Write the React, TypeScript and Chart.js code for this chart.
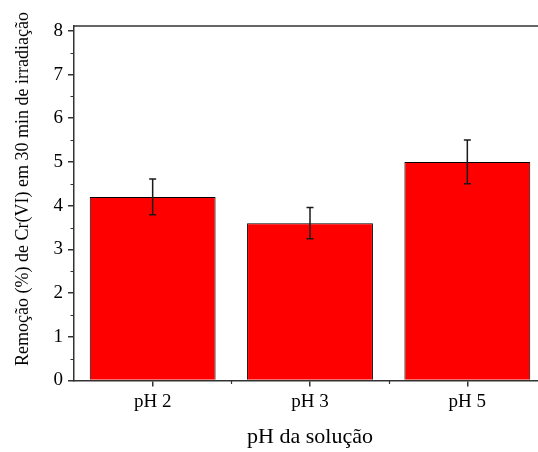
import React, { useEffect, useRef } from "react";
import { Chart, registerables } from "chart.js";

Chart.register(...registerables);

const categories = ["pH 2", "pH 3", "pH 5"];
const removal = [4.2, 3.6, 5.0];
const removalError = [0.41, 0.36, 0.5];
const yMin = 0;
const yMax = 8.11;
const yStep = 1;
const yTitle = "Remoção (%) de Cr(VI) em 30 min de irradiação";
const xTitle = "pH da solução";

const FONT = "'Liberation Serif', 'Times New Roman', serif";
const AXIS = "#333333";

const extras = {
  id: "extras",
  afterDatasetsDraw(chart: any) {
    const { ctx, chartArea, scales } = chart;
    const y = scales.y;
    const x = scales.x;
    const meta = chart.getDatasetMeta(0);
    ctx.save();
    // error bars
    ctx.strokeStyle = "#1a1a1a";
    ctx.lineWidth = 1.5;
    meta.data.forEach((bar: any, i: number) => {
      const v = removal[i];
      const e = removalError[i];
      const yt = y.getPixelForValue(v + e);
      const yb = y.getPixelForValue(v - e);
      ctx.beginPath();
      ctx.moveTo(bar.x, yt);
      ctx.lineTo(bar.x, yb);
      ctx.moveTo(bar.x - 3.5, yt);
      ctx.lineTo(bar.x + 3.5, yt);
      ctx.moveTo(bar.x - 3.5, yb);
      ctx.lineTo(bar.x + 3.5, yb);
      ctx.stroke();
    });
    // frame top / right
    ctx.strokeStyle = AXIS;
    ctx.lineWidth = 1.5;
    ctx.beginPath();
    ctx.moveTo(chartArea.left, chartArea.top);
    ctx.lineTo(chartArea.right, chartArea.top);
    ctx.lineTo(chartArea.right, chartArea.bottom);
    ctx.stroke();
    // minor ticks y
    ctx.lineWidth = 1.2;
    ctx.beginPath();
    for (let v = yMin + yStep / 2; v < yMax; v += yStep) {
      const py = Math.round(y.getPixelForValue(v)) + 0.5;
      ctx.moveTo(chartArea.left - 3.5, py);
      ctx.lineTo(chartArea.left, py);
    }
    // minor ticks x (between categories)
    for (let i = 0; i < categories.length - 1; i++) {
      const px = Math.round((x.getPixelForTick(i) + x.getPixelForTick(i + 1)) / 2) + 0.5;
      ctx.moveTo(px, chartArea.bottom);
      ctx.lineTo(px, chartArea.bottom + 3.5);
    }
    ctx.stroke();
    // y title
    ctx.fillStyle = "#000";
    ctx.font = `18px ${FONT}`;
    ctx.textAlign = "center";
    ctx.textBaseline = "middle";
    ctx.translate(23, 189);
    ctx.rotate(-Math.PI / 2);
    ctx.fillText(yTitle, 0, 0);
    ctx.restore();
  },
};

export default function App() {
  const ref = useRef<HTMLCanvasElement | null>(null);
  useEffect(() => {
    if (!ref.current) return;
    const chart = new Chart(ref.current, {
      type: "bar",
      data: {
        labels: categories,
        datasets: [
          {
            data: removal,
            backgroundColor: "#ff0000",
            borderColor: "#000000",
            borderWidth: 1,
            barPercentage: 0.8,
            categoryPercentage: 1.0,
          },
        ],
      },
      options: {
        animation: false,
        responsive: false,
        devicePixelRatio: 1,
        layout: { padding: { top: 26, right: 14, left: 0, bottom: 0 } },
        plugins: { legend: { display: false }, tooltip: { enabled: false } },
        scales: {
          x: {
            offset: true,
            grid: {
              offset: false,
              drawOnChartArea: false,
              drawTicks: true,
              tickLength: 6,
              color: AXIS,
              lineWidth: 1.5,
            },
            border: { display: true, color: AXIS, width: 1.5 },
            ticks: { color: "#000", font: { family: FONT, size: 19 }, padding: 4, maxRotation: 0 },
            title: {
              display: true,
              text: xTitle,
              color: "#000",
              font: { family: FONT, size: 22 },
              padding: { top: 0, bottom: 2 },
            },
            afterFit(scale: any) {
              scale.height = 71.5;
            },
          },
          y: {
            min: yMin,
            max: yMax,
            grid: {
              drawOnChartArea: false,
              drawTicks: true,
              tickLength: 6,
              color: AXIS,
              lineWidth: 1.5,
            },
            border: { display: true, color: AXIS, width: 1.5 },
            ticks: {
              stepSize: yStep,
              includeBounds: false,
              color: "#000",
              font: { family: FONT, size: 19 },
              padding: 5,
            },
            afterBuildTicks(scale: any) {
              scale.ticks = scale.ticks.filter((t: any) => Number.isInteger(t.value));
            },
            afterFit(scale: any) {
              scale.width = 74;
            },
          },
        },
      },
      plugins: [extras],
    });
    return () => chart.destroy();
  }, []);
  return (
    <div
      style={{
        position: "absolute",
        left: 0,
        top: 0,
        width: 538,
        height: 452,
        overflow: "hidden",
        background: "#fff",
      }}
    >
      <canvas ref={ref} width={560} height={452} style={{ width: 560, height: 452, display: "block" }} />
    </div>
  );
}
